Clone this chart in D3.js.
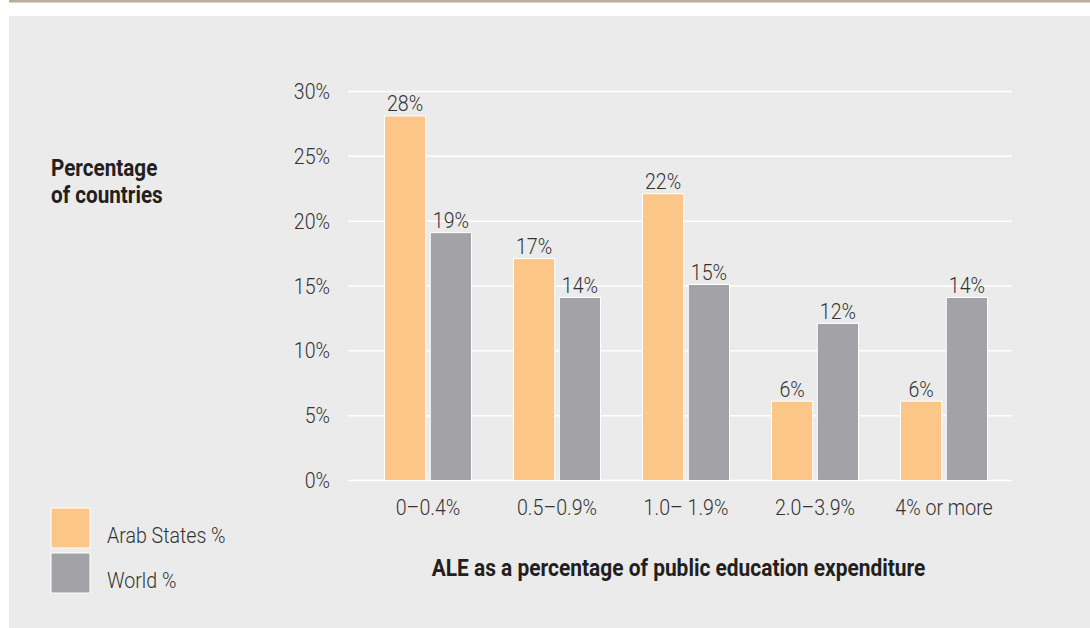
<!DOCTYPE html>
<html><head><meta charset="utf-8">
<script src="https://cdn.jsdelivr.net/npm/d3@7"></script>
<style>
body{margin:0;background:#fff;}
text{font-family:Roboto,"Liberation Sans",sans-serif;}
</style></head>
<body><svg id="c" width="1090" height="628"></svg>
<script>
const categories = ["0–0.4%", "0.5–0.9%", "1.0– 1.9%", "2.0–3.9%", "4% or more"];
const seriesNames = ["Arab States %", "World %"];
const arabStates = [28, 17, 22, 6, 6];
const world = [19, 14, 15, 12, 14];
const yTicks = [0, 5, 10, 15, 20, 25, 30];
const colors = ["#fdc689", "#a3a2a7"];

// narrow the glyphs slightly to imitate the condensed face of the original
function condense(sel, k) {
  sel.each(function () {
    const w = this.getComputedTextLength();
    d3.select(this).attr("textLength", w * k).attr("lengthAdjust", "spacingAndGlyphs");
  });
}

const svg = d3.select("#c");
svg.append("rect").attr("x", 9).attr("y", 0).attr("width", 1081).attr("height", 2.5).attr("fill", "#bcac9a");
svg.append("rect").attr("x", 9).attr("y", 16).attr("width", 1081).attr("height", 612).attr("fill", "#ebebeb");

const y = d3.scaleLinear().domain([0, 30]).range([480.5, 91.5]);
const x0 = d3.scaleBand().domain(categories).range([363.5, 1008.5]).padding(0);
const x1 = d3.scaleBand().domain(seriesNames).range([21, 108]).paddingInner(0.1);

// gridlines
svg.append("g").selectAll("line").data(yTicks).join("line")
  .attr("x1", 348).attr("x2", 1012)
  .attr("y1", d => y(d)).attr("y2", d => y(d))
  .attr("stroke", "#fff").attr("stroke-width", 1.5);

// y axis labels
const yAxis = d3.axisLeft(y).tickValues(yTicks).tickFormat(d => d + "%").tickSize(0).tickPadding(0);
const ga = svg.append("g").attr("transform", "translate(330,0)").call(yAxis);
ga.select(".domain").remove();
ga.selectAll("text").attr("font-size", 22).attr("font-weight", 300).attr("fill", "#333").attr("font-family", null)
  .call(condense, 0.89);

// bars
const data = categories.map((c, i) => ({ c, vals: [arabStates[i], world[i]] }));
const groups = svg.append("g").selectAll("g").data(data).join("g")
  .attr("transform", d => `translate(${x0(d.c)},0)`);
groups.selectAll("rect").data(d => d.vals.map((v, j) => ({ v, s: seriesNames[j], j }))).join("rect")
  .attr("x", d => x1(d.s)).attr("width", x1.bandwidth())
  .attr("y", d => y(d.v) - 1.5).attr("height", d => y(0) - y(d.v) + 1.5)
  .attr("fill", d => colors[d.j]).attr("stroke", "#fff").attr("stroke-width", 1);
groups.selectAll("text").data(d => d.vals.map((v, j) => ({ v, s: seriesNames[j], j }))).join("text")
  .attr("x", d => x1(d.s) + x1.bandwidth() / 2).attr("y", d => y(d.v) - 6)
  .attr("text-anchor", "middle").attr("font-size", 22).attr("font-weight", 300).attr("fill", "#333")
  .text(d => d.v + "%")
  .call(condense, 0.89);

// category labels
const xAxis = d3.axisBottom(x0).tickSize(0).tickPadding(0);
const gx = svg.append("g").attr("transform", "translate(0,515)").call(xAxis);
gx.select(".domain").remove();
gx.selectAll("text").attr("font-size", 22).attr("font-weight", 300).attr("fill", "#333").attr("font-family", null).attr("dy", 0).attr("y", 0)
  .call(condense, 0.89);

// axis titles
const yt = svg.append("text").attr("x", 51).attr("y", 176).attr("font-size", 23.5).attr("font-weight", "bold").attr("fill", "#231f20");
yt.append("tspan").attr("x", 51).text("Percentage");
yt.append("tspan").attr("x", 51).attr("dy", 27).text("of countries");
yt.selectAll("tspan").call(condense, 0.88);
svg.append("text").attr("x", 678.5).attr("y", 576).attr("text-anchor", "middle")
  .attr("font-size", 23.5).attr("font-weight", "bold").attr("fill", "#231f20")
  .text("ALE as a percentage of public education expenditure")
  .call(condense, 0.89);

// legend
const lg = svg.append("g").selectAll("g").data(seriesNames).join("g")
  .attr("transform", (d, i) => `translate(51,${508 + i * 45})`);
lg.append("rect").attr("width", 39).attr("height", 40).attr("fill", (d, i) => colors[i]).attr("stroke", "#fff").attr("stroke-width", 1);
lg.append("text").attr("x", 56).attr("y", 35).attr("font-size", 22).attr("font-weight", 300).attr("fill", "#333").text(d => d)
  .call(condense, 0.89);
</script></body></html>
